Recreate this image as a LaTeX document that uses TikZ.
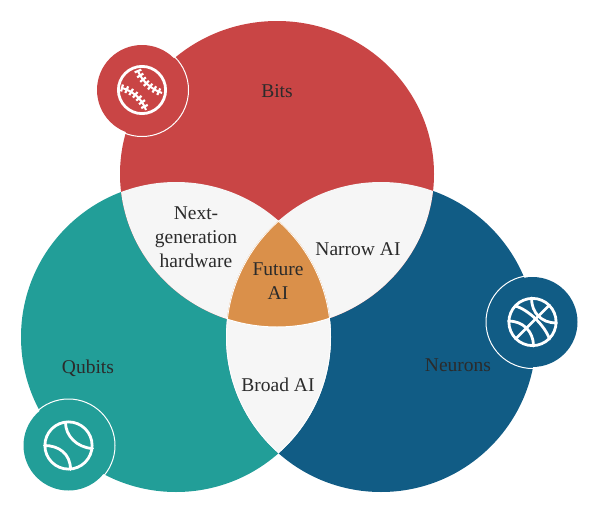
\documentclass[tikz,border=0pt]{standalone}
\usepackage{fontspec}
\setmainfont{Liberation Serif}
\usetikzlibrary{decorations.pathreplacing}
\definecolor{bitsred}{HTML}{C94545}
\definecolor{qubitteal}{HTML}{229E98}
\definecolor{neuronblue}{HTML}{115C85}
\definecolor{lensgrey}{HTML}{F6F6F6}
\definecolor{futureorange}{HTML}{DA904A}
\definecolor{labelink}{HTML}{2B2B2B}
\tikzset{
  label text/.style={text=labelink, font=\fontsize{19.5}{24}\selectfont, align=center, inner sep=0pt},
  ball line/.style={draw=white, line width=2.8pt, line cap=round},
  stitch/.style={draw=white, line width=2.2pt, decorate, decoration={ticks, segment length=5pt, amplitude=3.6pt}}
}
\begin{document}
\begin{tikzpicture}[x=1pt, y=-1pt]
  \useasboundingbox (0,0) rectangle (600,514);
  \coordinate (R) at (277,174);
  \coordinate (T) at (176,337);
  \coordinate (N) at (381,337);
  \def\rx{157}
  \def\ry{153}
  \def\rs{155}
  \fill[qubitteal] (T) circle [radius=\rs];
  \fill[neuronblue] (N) circle [radius=\rs];
  \fill[bitsred] (R) ellipse [x radius=\rx, y radius=\ry];
  % overlaps
  \begin{scope}
    \clip (R) ellipse [x radius=\rx, y radius=\ry];
    \fill[lensgrey] (T) circle [radius=\rs];
    \fill[lensgrey] (N) circle [radius=\rs];
  \end{scope}
  \begin{scope}
    \clip (T) circle [radius=\rs];
    \fill[lensgrey] (N) circle [radius=\rs];
    \clip (N) circle [radius=\rs];
    \fill[futureorange] (R) ellipse [x radius=\rx, y radius=\ry];
    \draw[white, line width=1.6pt] (T) circle [radius=\rs];
    \draw[white, line width=1.6pt] (N) circle [radius=\rs];
    \draw[white, line width=1pt] (R) ellipse [x radius=\rx, y radius=\ry];
  \end{scope}
  \node (bits) [label text] at (277,91) {Bits};
  \node (qubits) [label text] at (88,368) {Qubits};
  \node (neurons) [label text] at (458,365) {Neurons};
  \node (hardware) [label text] at (196,237) {Next-\\generation\\hardware};
  \node (narrow) [label text] at (358,249) {Narrow AI};
  \node (broad) [label text] at (278,385) {Broad AI};
  \node (future) [label text] at (278,281) {Future\\AI};
  % badges
  \coordinate (a) at (142,90);
  \coordinate (b) at (532.5,322);
  \coordinate (c) at (68.5,445.5);
  \draw[white, line width=1pt] (a) circle [radius=46.5];
  \fill[bitsred] (a) circle [radius=45];
  \draw[white, line width=1pt] (b) circle [radius=46.5];
  \fill[neuronblue] (b) circle [radius=45];
  \draw[white, line width=1pt] (c) circle [radius=46.5];
  \fill[qubitteal] (c) circle [radius=45];
  % baseball
  \draw[ball line] (a) circle [radius=23.6];
  \draw[white, line width=2pt] ([shift={(-20,-2)}]a) .. controls ([shift={(-9,1)}]a) and ([shift={(0,9)}]a) .. ([shift={(4,20)}]a);
  \draw[white, line width=2pt] ([shift={(-4,-19)}]a) .. controls ([shift={(0,-9)}]a) and ([shift={(9,-1)}]a) .. ([shift={(20,3)}]a);
  \draw[stitch] ([shift={(-20,-2)}]a) .. controls ([shift={(-9,1)}]a) and ([shift={(0,9)}]a) .. ([shift={(4,20)}]a);
  \draw[stitch] ([shift={(-4,-19)}]a) .. controls ([shift={(0,-9)}]a) and ([shift={(9,-1)}]a) .. ([shift={(20,3)}]a);
  % basketball
  \draw[ball line] (b) circle [radius=23.6];
  \draw[ball line] ([shift={(-17,17)}]b) -- ([shift={(17,-17)}]b);
  \draw[ball line] ([shift={(-17,-16)}]b) .. controls ([shift={(-4,-12)}]b) and ([shift={(12,3)}]b) .. ([shift={(17,17)}]b);
  \draw[ball line] ([shift={(-24,-1)}]b) .. controls ([shift={(-10,-1)}]b) and ([shift={(1,9)}]b) .. ([shift={(1,24)}]b);
  \draw[ball line] ([shift={(-1,-24)}]b) .. controls ([shift={(-1,-9)}]b) and ([shift={(9,1)}]b) .. ([shift={(24,1)}]b);
  % tennis ball
  \draw[ball line] (c) circle [radius=23.6];
  \draw[ball line] ([shift={(-3,-23)}]c) .. controls ([shift={(-3,-10)}]c) and ([shift={(8,2)}]c) .. ([shift={(24,3)}]c);
  \draw[ball line] ([shift={(-24,0)}]c) .. controls ([shift={(-10,0)}]c) and ([shift={(2,8)}]c) .. ([shift={(2,24)}]c);
\end{tikzpicture}
\end{document}
